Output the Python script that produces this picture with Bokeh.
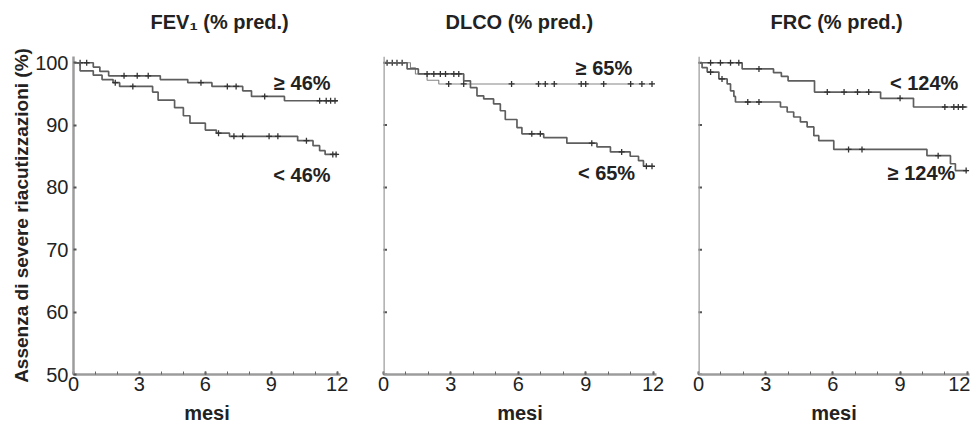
import numpy as np
from bokeh.plotting import figure
from bokeh.layouts import row
from bokeh.models import FixedTicker, Range1d, Span
from bokeh.embed import file_html
from bokeh.resources import INLINE
from bokeh.core.properties import value

FONT = "Liberation Sans"

# ---------------- data ----------------
x_ticks = [0, 3, 6, 9, 12]
y_ticks = [50, 60, 70, 80, 90, 100]
titles = ["FEV\u2081 (% pred.)", "DLCO (% pred.)", "FRC (% pred.)"]
x_label = "mesi"
y_label = "Assenza di severe riacutizzazioni (%)"

# FEV1
fev_hi_t = [0, 0.9, 1.2, 1.6, 3.95, 5.2, 6.3, 7.7, 8.1, 9.6, 12]
fev_hi_s = [100, 99.3, 98.6, 97.9, 97.3, 96.8, 96.2, 95.5, 94.6, 93.9, 93.9]
fev_hi_cens = [0.3, 0.6, 2.3, 2.9, 3.4, 5.8, 7.0, 7.4, 8.7, 11.2, 11.5, 11.7, 11.9]
fev_lo_t = [0, 0.3, 0.9, 1.3, 1.8, 2.1, 3.6, 3.85, 4.6, 5.0, 5.3, 6.0, 6.5, 7.1,
            10.2, 10.9, 11.2, 11.45, 12]
fev_lo_s = [100, 98.7, 98.0, 97.3, 96.8, 96.2, 95.3, 94.0, 92.8, 91.5, 90.3, 89.2,
            88.7, 88.2, 87.5, 86.7, 85.9, 85.3, 85.3]
fev_lo_cens = [1.9, 2.7, 6.6, 7.3, 7.7, 8.9, 9.3, 10.6, 11.8, 11.95]
fev_labels = ["\u2265 46%", "< 46%"]
fev_label_pos = [(11.7, 96.8), (11.7, 82.0)]

# DLCO
dlco_hi_t = [0, 1.2, 1.42, 1.94, 2.46, 12]
dlco_hi_s = [100, 99.2, 98.2, 97.2, 96.6, 96.6]
dlco_hi_cens = [0.16, 0.39, 0.6, 0.83, 2.9, 3.57, 5.7, 6.9, 7.2, 7.6, 8.8, 9.0, 9.8,
                11.0, 11.5, 11.95]
dlco_lo_t = [0, 1.05, 1.55, 3.57, 3.87, 4.16, 4.46, 4.9, 5.2, 5.42, 5.94, 6.16, 7.13,
             8.16, 9.5, 10.1, 10.98, 11.35, 11.57, 12]
dlco_lo_s = [100, 99.0, 98.2, 97.1, 96.0, 94.7, 94.2, 93.4, 92.3, 90.9, 89.6, 88.6,
             88.0, 87.1, 86.5, 85.7, 85.0, 84.3, 83.4, 83.4]
dlco_lo_cens = [1.94, 2.24, 2.53, 2.76, 3.13, 3.35, 6.6, 6.98, 9.27, 10.6, 11.7, 11.95]
dlco_labels = ["\u2265 65%", "< 65%"]
dlco_label_pos = [(11.07, 99.2), (11.2, 82.3)]

# FRC
frc_lo_t = [0, 1.95, 3.35, 3.7, 4.0, 5.18, 8.13, 9.6, 12]
frc_lo_s = [100, 99.0, 98.4, 97.8, 97.1, 95.3, 94.3, 92.9, 92.9]
frc_lo_cens = [0.54, 0.98, 1.43, 1.8, 2.7, 5.75, 6.5, 7.1, 7.6, 9.0, 11.0, 11.4, 11.6, 11.8]
frc_hi_t = [0, 0.16, 0.39, 0.91, 1.28, 1.43, 1.58, 1.65, 3.66, 3.96, 4.25, 4.55, 4.85,
            5.15, 5.37, 6.04, 10.2, 11.25, 11.47, 12]
frc_hi_s = [100, 99.2, 98.5, 97.4, 96.6, 95.5, 94.6, 93.7, 92.9, 92.1, 91.3, 90.5, 89.7,
            88.3, 87.5, 86.1, 85.1, 83.8, 82.7, 82.7]
frc_hi_cens = [0.54, 1.05, 2.2, 2.7, 6.7, 7.3, 10.7, 11.95]
frc_labels = ["< 124%", "\u2265 124%"]
frc_label_pos = [(11.6, 96.8), (11.47, 82.3)]


AXIS_COLOR = "#9c9c9c"
CURVE_COLOR = "#5e5e5e"
TEXT_COLOR = "#222222"
H = 426


def censor_y(t, s, c):
    t = np.asarray(t)
    s = np.asarray(s)
    idx = np.searchsorted(t, np.asarray(c), side="right") - 1
    return s[idx]


def style_axis(ax):
    ax.axis_line_color = AXIS_COLOR
    ax.axis_line_width = 2.5
    ax.major_tick_line_color = "#555555"
    ax.major_tick_line_width = 2
    ax.major_tick_in = 3
    ax.major_tick_out = 0
    ax.minor_tick_line_color = "#666666"
    ax.minor_tick_line_width = 1
    ax.minor_tick_in = 3
    ax.minor_tick_out = 0
    ax.major_label_text_font = FONT
    ax.major_label_text_font_size = "20px"
    ax.major_label_text_color = TEXT_COLOR
    ax.axis_label_text_font = FONT
    ax.axis_label_text_font_style = "bold"
    ax.axis_label_text_color = TEXT_COLOR


def make_panel(title, width, bl, br, xmax, curves, labels, label_pos, show_y, toff):
    p = figure(width=width, height=H, x_range=Range1d(0, xmax), y_range=Range1d(50, 101),
               output_backend="svg", toolbar_location=None,
               min_border_left=bl, min_border_right=br, min_border_top=56,
               min_border_bottom=51)
    p.outline_line_color = None
    p.grid.visible = False
    p.background_fill_color = "white"
    p.border_fill_color = "white"

    p.title.text = title
    p.title.align = "left"
    p.title.text_font = FONT
    p.title.text_font_size = "20px"
    p.title.text_font_style = "bold"
    p.title.text_color = TEXT_COLOR
    p.title.offset = toff
    p.title.standoff = 0
    p.title.padding = dict(left=0, right=0, top=0, bottom=24)

    style_axis(p.xaxis[0])
    p.xaxis.ticker = FixedTicker(ticks=x_ticks, minor_ticks=list(range(13)))
    p.xaxis.major_label_standoff = 2
    p.xaxis.axis_label = x_label
    p.xaxis.axis_label_text_font_size = "20px"
    p.xaxis.axis_label_standoff = 8

    if show_y:
        style_axis(p.yaxis[0])
        p.yaxis.ticker = FixedTicker(ticks=y_ticks, minor_ticks=[])
        p.yaxis.major_label_standoff = 5
        p.yaxis.axis_label = y_label
        p.yaxis.axis_label_text_font_size = "19px"
        p.yaxis.axis_label_standoff = 0
    else:
        p.yaxis.visible = False
        p.add_layout(Span(location=x_ticks[0], dimension="height",
                          line_color=AXIS_COLOR, line_width=2.5))
        p.scatter([x_ticks[0]] * len(y_ticks), y_ticks, marker="dash", size=7,
                  line_color="#555555", line_width=2)

    for (t, s, c, lw, col) in curves:
        p.step(t, s, mode="after", line_color=col, line_width=lw)
        p.scatter(c, censor_y(t, s, c), marker="cross", size=6, line_color="#333333",
                  line_width=1.3)

    p.text(x=[q[0] for q in label_pos], y=[q[1] for q in label_pos], text=labels,
           text_font=value(FONT), text_font_size="20px", text_font_style="bold",
           text_align="right", text_baseline="middle", text_color=TEXT_COLOR)
    return p


p1 = make_panel(titles[0], 360, 73, 20, 12.15,
                [(fev_hi_t, fev_hi_s, fev_hi_cens, 1.7, CURVE_COLOR),
                 (fev_lo_t, fev_lo_s, fev_lo_cens, 1.7, CURVE_COLOR)],
                fev_labels, fev_label_pos, True, 77)
p2 = make_panel(titles[1], 316, 23, 20, 12.15,
                [(dlco_hi_t, dlco_hi_s, dlco_hi_cens, 1.1, "#858585"),
                 (dlco_lo_t, dlco_lo_s, dlco_lo_cens, 1.7, CURVE_COLOR)],
                dlco_labels, dlco_label_pos, False, 62)
p3 = make_panel(titles[2], 294, 22, 1, 12.1,
                [(frc_lo_t, frc_lo_s, frc_lo_cens, 1.7, CURVE_COLOR),
                 (frc_hi_t, frc_hi_s, frc_hi_cens, 1.7, CURVE_COLOR)],
                frc_labels, frc_label_pos, False, 72)

layout = row(p1, p2, p3, spacing=0)
open("out.html", "w").write(file_html(layout, INLINE))
